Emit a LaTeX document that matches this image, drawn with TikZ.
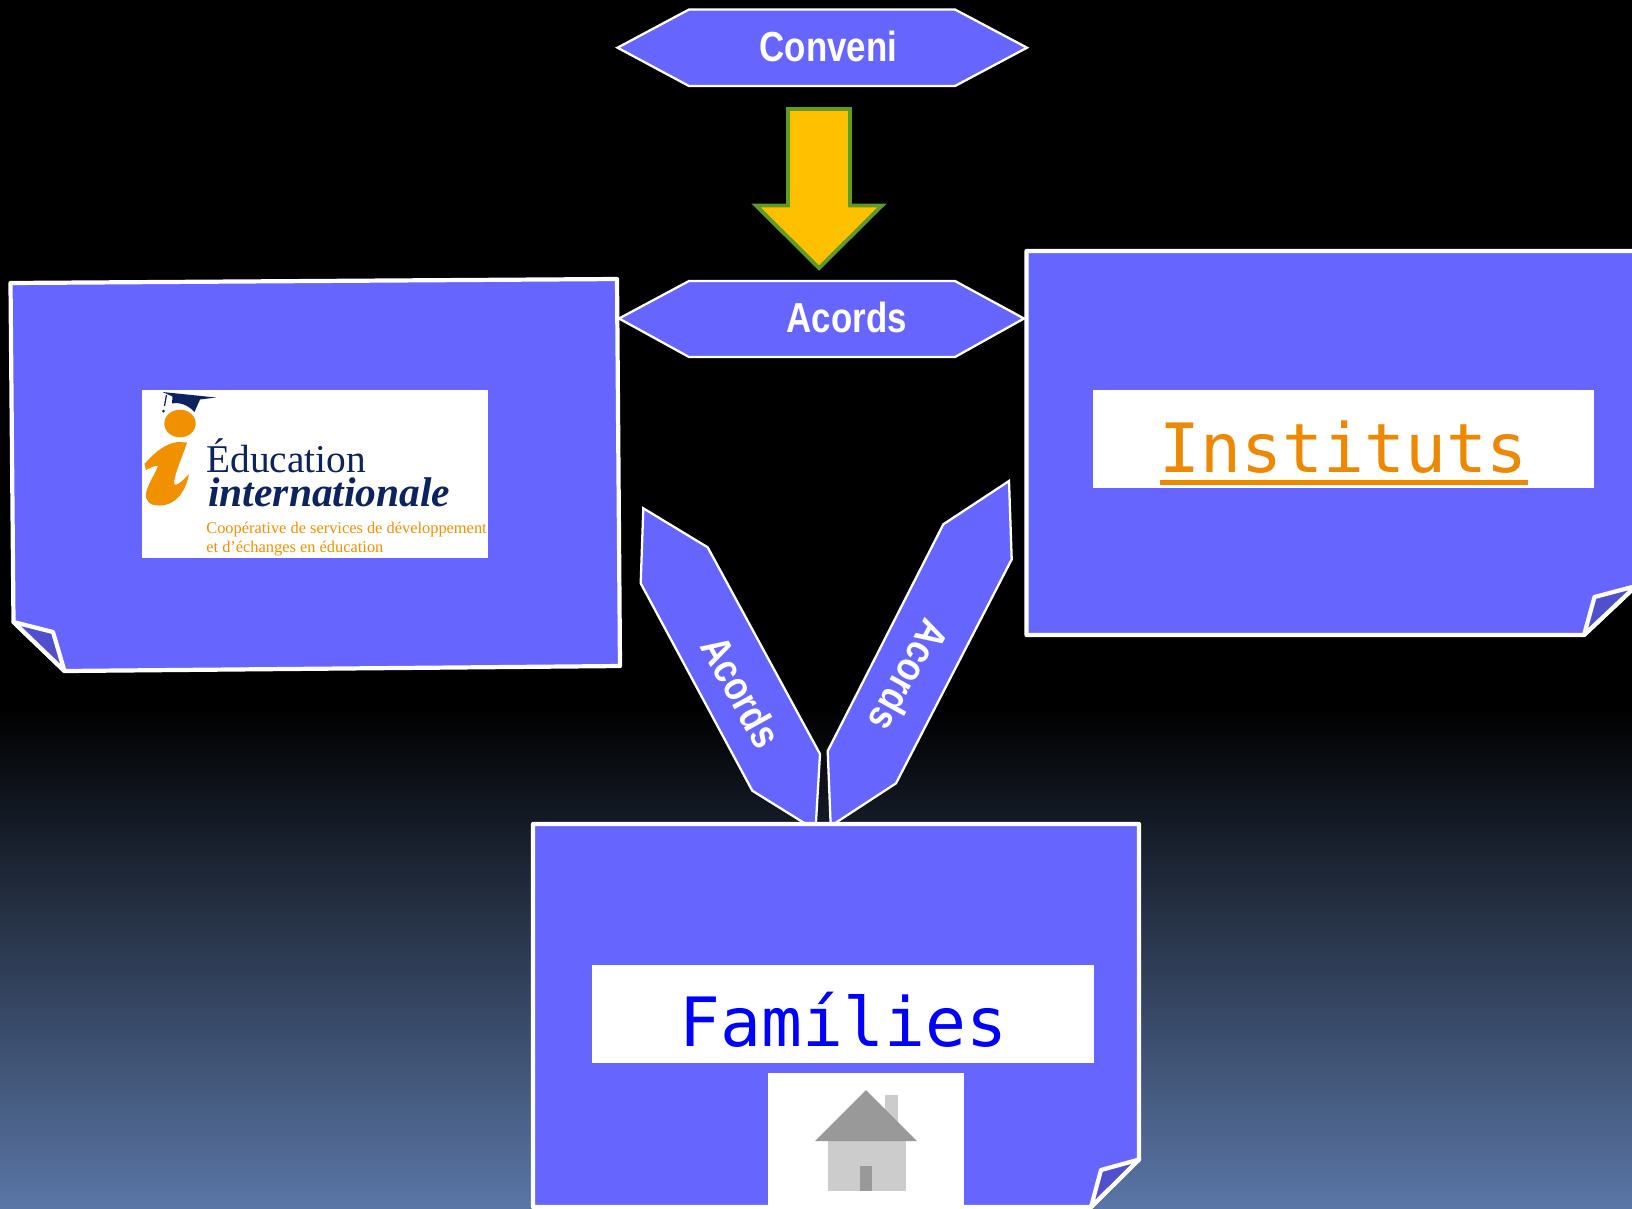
\documentclass[tikz,border=0pt]{standalone}
\usepackage{fontspec}
\usepackage{graphicx}
\setmainfont{Liberation Serif}
\newfontfamily\labelfamily{Liberation Sans}
\newfontfamily\monofamily{DejaVu Sans Mono}
\definecolor{notefill}{HTML}{6666FF}
\definecolor{foldfill}{HTML}{5050CC}
\definecolor{skyblue}{HTML}{5A76A6}
\definecolor{arrowgold}{HTML}{FFC000}
\definecolor{arrowgreen}{HTML}{5F9B26}
\definecolor{logonavy}{HTML}{0C2360}
\definecolor{logoorange}{HTML}{F29100}
\definecolor{linkorange}{HTML}{EE8800}
\definecolor{houselight}{HTML}{CCCCCC}
\definecolor{housedark}{HTML}{999999}
\tikzset{
  note/.style={draw=white, fill=notefill, line width=2.4pt, line join=round},
  fold/.style={draw=white, fill=foldfill, line width=2.4pt, line join=round},
  tag/.style={draw=white, fill=notefill, line width=1.3pt, line join=miter},
  taglabel/.style={text=white, inner sep=0pt, font=\labelfamily\bfseries\fontsize{23.9}{24}\selectfont},
  monolabel/.style={inner sep=0pt, anchor=base, font=\monofamily\fontsize{38.7}{40}\selectfont},
  logotext/.style={inner sep=0pt, anchor=base west}
}
\begin{document}
\begin{tikzpicture}[x=0.02cm, y=-0.02cm]
\useasboundingbox (0,0) rectangle (1632,1208);
% background
\fill[black] (0,0) rectangle (1632,1208);
\shade[top color=black, bottom color=skyblue] (0,708) rectangle (1632,1208);

% left sheet
\draw[note] (10.5,283) -- (617,279) -- (620,666) -- (64.5,671) -- (13.5,622) -- cycle;
\draw[fold] (13.5,622) -- (53,632) -- (64.5,671) -- cycle;
\fill[white] (142,390) rectangle (488,558);
% logo
\fill[logoorange] (180,423.5) ellipse (15.7 and 13.8);
\fill[logoorange] (144.5,464) .. controls (152,455) and (165,443) .. (178,442) -- (187,442.5)
  .. controls (182,458) and (175,472) .. (174,483) .. controls (174,487) and (180,484) .. (189,474)
  .. controls (186,490) and (177,505) .. (160,505.5) .. controls (150,506) and (145,501) .. (146,493)
  .. controls (148,484) and (155,474) .. (158,466) .. controls (155,465) and (150,468) .. (146,470) -- cycle;
\fill[logonavy] (162.5,392) -- (216,397.5) -- (200,399.5) -- (194.5,412)
  .. controls (188,405) and (180,402) .. (172,403.5) -- (172.5,396.5) -- cycle;
\draw[logonavy, line width=0.7pt] (166.5,395) -- (164.5,406);
\fill[logonavy] (163.5,411) circle (1.5);
\node[logotext, text=logonavy, font=\fontsize{22.4}{24}\selectfont] (logotop) at (206,472) {Éducation};
\node[logotext, text=logonavy, font=\bfseries\itshape\fontsize{23.6}{24}\selectfont] (logomid) at (208,506) {internationale};
\node[logotext, text=logoorange, font=\fontsize{9.33}{10}\selectfont] (logocoop) at (206,533.5) {Coopérative de services de développement};
\node[logotext, text=logoorange, font=\fontsize{9.33}{10}\selectfont] (logoet) at (206,552) {et d’échanges en éducation};

% right sheet
\draw[note] (1026.5,251) -- (1636,251) -- (1636,586) -- (1584,635) -- (1026.5,635) -- cycle;
\draw[fold] (1636,586) -- (1594.5,597) -- (1584,635) -- cycle;
\fill[white] (1093,390) rectangle (1594,488);
\node[monolabel, text=linkorange] (instituts) at (1343.7,472.5) {Instituts};
\fill[linkorange] (1159.5,480) rectangle (1528,485);

% top tags
\draw[tag] (617.5,47.7) -- (689,9.5) -- (955,9.5) -- (1027,47.7) -- (955,86) -- (689,86) -- cycle;
\node[taglabel, anchor=base] (conveni) at (828.5,61.5) {\scalebox{.83}[1]{Conveni}};
\draw[tag] (619,318.5) -- (689,281) -- (955,281) -- (1024,318.5) -- (955,357) -- (689,357) -- cycle;
\node[taglabel, anchor=base] (acordstop) at (846.8,332.5) {\scalebox{.83}[1]{Acords}};

% down arrow
\draw[draw=arrowgreen, fill=arrowgold, line width=2.2pt, line join=miter] (788,109) -- (850,109) -- (850,205.5) -- (882,205.5) -- (819,268) -- (756,205.5) -- (788,205.5) -- cycle;

% slanted tags
\draw[tag] (643.3,508.3) -- (707.7,547.3) -- (820,754) -- (815.5,830) -- (752.3,790.7) -- (640.7,583.3) -- cycle;
\node[taglabel, rotate=-61] (acordsleft) at (741.5,691.5) {\scalebox{.84}[1]{\fontsize{23.5}{24}\selectfont Acords}};
\draw[tag] (1009,481) -- (943.3,524.3) -- (827.7,751) -- (830.7,826) -- (896,783.3) -- (1011.7,559.3) -- cycle;
\node[taglabel, rotate=-119] (acordsright) at (909.5,676) {\scalebox{.84}[1]{\fontsize{23.5}{24}\selectfont Acords}};

% bottom sheet
\draw[note] (533,824) -- (1139,824) -- (1139,1159.5) -- (1091,1207) -- (533,1207) -- cycle;
\draw[fold] (1139,1159.5) -- (1101,1170) -- (1091,1207) -- cycle;
\fill[white] (592,965) rectangle (1094,1063);
\node[monolabel, text=blue] (families) at (843.5,1046) {Famílies};
\fill[white] (768,1073) rectangle (964,1208);
% house
\fill[houselight] (885,1095) rectangle (898,1125);
\fill[houselight] (827.5,1141) rectangle (905.5,1191);
\fill[housedark] (866,1090) -- (917,1141) -- (815,1141) -- cycle;
\fill[housedark] (860,1166) rectangle (872,1191);
\end{tikzpicture}
\end{document}
